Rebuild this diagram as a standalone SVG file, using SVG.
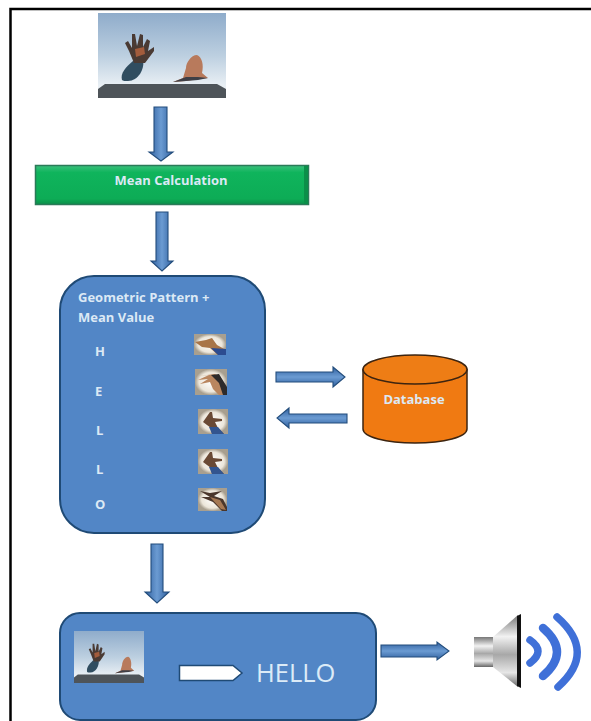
<svg xmlns="http://www.w3.org/2000/svg" width="591" height="721" viewBox="0 0 591 721">
<style>
text{font-family:"Open Sans","Liberation Sans",sans-serif}
.lab{font-weight:700;fill:#dce9f5;font-size:13px}
.ar{fill:url(#arrowH);stroke:#234d7c;stroke-width:1.1;stroke-linejoin:miter}
.arv{fill:url(#arrowV);stroke:#234d7c;stroke-width:1.1;stroke-linejoin:miter}
.blue{fill:#5286c6;stroke:#1f4a75;stroke-width:2}
.wave{fill:none;stroke:#3f70d8;stroke-linecap:round}
</style>
<defs>
<linearGradient id="arrowV" x1="0" x2="1" y1="0" y2="0"><stop offset="0" stop-color="#2f5f9e"/><stop offset=".5" stop-color="#6b9bd2"/><stop offset="1" stop-color="#2f5f9e"/></linearGradient>
<linearGradient id="arrowH" x1="0" x2="0" y1="0" y2="1"><stop offset="0" stop-color="#2f5f9e"/><stop offset=".5" stop-color="#6b9bd2"/><stop offset="1" stop-color="#2f5f9e"/></linearGradient>
<linearGradient id="sky" x1="0" x2="0" y1="0" y2="1"><stop offset="0" stop-color="#8faccb"/><stop offset=".5" stop-color="#bccfe0"/><stop offset=".85" stop-color="#e9eff4"/></linearGradient>
<linearGradient id="green" x1="0" x2="0" y1="0" y2="1"><stop offset="0" stop-color="#3cc07c"/><stop offset=".18" stop-color="#0fb45c"/><stop offset=".85" stop-color="#0dac56"/><stop offset="1" stop-color="#0b8f49"/></linearGradient>
<linearGradient id="metal" x1="0" x2="0" y1="0" y2="1"><stop offset="0" stop-color="#777"/><stop offset=".3" stop-color="#f2f2f2"/><stop offset=".55" stop-color="#a8a8a8"/><stop offset=".8" stop-color="#e6e6e6"/><stop offset="1" stop-color="#666"/></linearGradient>
<radialGradient id="thumbBg"><stop offset="0" stop-color="#ffffff"/><stop offset=".75" stop-color="#ece6da"/><stop offset="1" stop-color="#a89f8f"/></radialGradient>
<symbol id="scene" viewBox="0 0 128 85" preserveAspectRatio="none">
<rect width="128" height="85" fill="url(#sky)"/>
<path d="M0 85V76L7 71H119L128 76V85Z" fill="#4e5459"/>
<path d="M24 67C22 60 28 54 35 48L45 47C47 56 40 68 30 68C27 68 25 68 24 67Z" fill="#304d60"/>
<path d="M36 50L31 38L27 30L30 28L34 35L34 21L37 21L39 33L42 21L45 22L45 34L49 26L52 28L50 38L56 34L56 38L47 50Z" fill="#4a3a33"/>
<path d="M38 44L37 36L46 34L47 41Z" fill="#a35c3c"/>
<path d="M75 69L85 65L88 55C88 50 93 42 99 42C104 44 106 52 104 60L110 65L101 66L88 68Z" fill="#b87a5c"/>
<path d="M75 69L88 64L100 64L110 65L100 67L88 68Z" fill="#3f3f46"/>
</symbol>
<symbol id="thH" viewBox="0 0 32 21" preserveAspectRatio="none">
<rect width="32" height="21" fill="url(#thumbBg)"/>
<path d="M1 8L12 6L18 4L23 11L32 16V21H24L16 14L8 13Z" fill="#a87548"/>
<path d="M17 14L32 15V21H24Z" fill="#2c4c90"/>
</symbol>
<symbol id="thE" viewBox="0 0 32 26" preserveAspectRatio="none">
<rect width="32" height="26" fill="url(#thumbBg)"/>
<path d="M4 7L14 6L3 11L13 10L5 15L15 13L18 20L24 26H32V20L24 8L20 5Z" fill="#b9865f"/>
<path d="M16 6L24 5L32 18V26H28L24 14Z" fill="#2d2a2a"/>
</symbol>
<symbol id="thL" viewBox="0 0 30 25" preserveAspectRatio="none">
<rect width="30" height="25" fill="url(#thumbBg)"/>
<path d="M12 3L14 3L15 9L24 10V12L17 13L20 19L26 25H14L13 19L5 13Z" fill="#6a4a35"/>
<path d="M11 18L20 18L26 25H14Z" fill="#33558f"/>
</symbol>
<symbol id="thO" viewBox="0 0 29 23" preserveAspectRatio="none">
<rect width="29" height="23" fill="url(#thumbBg)"/>
<path d="M2 3L12 5L24 3L16 8L25 11L29 19V23H24L15 14L3 9L12 9Z" fill="#4a362b"/>
<path d="M12 9L22 12L28 22L23 21Z" fill="#a67954"/>
</symbol>
</defs>
<rect width="591" height="721" fill="#fff"/>
<path id="frame" d="M10.500 721V9H591" fill="none" stroke="#000" stroke-width="2.500"/>
<g id="connectors">
<path class="arv" d="M154 107H167V152H173L161 161L149 152H154Z"/>
<path class="arv" d="M156 212H168V261H173L162 271L151 261H156Z"/>
<path class="arv" d="M151 544H163V592H169L157 603L145 592H151Z"/>
<path class="ar" d="M276 372H333V367L345 377L333 387V382H276Z"/>
<path class="ar" d="M347 414H289V408L277 418L289 428V423H347Z"/>
<path class="ar" d="M381 645H437V642L449 651L437 660V657H381Z"/>
</g>
<g id="input-image"><use href="#scene" x="98" y="13" width="128" height="85"/></g>
<g id="mean-calculation">
<rect x="35.500" y="165.500" width="273" height="39" fill="url(#green)" stroke="#2b7a58" stroke-width="1.500"/>
<rect x="304" y="166" width="4" height="38" fill="#0b8f49"/>
<text x="171" y="185" text-anchor="middle" class="lab">Mean Calculation</text>
</g>
<g id="pattern">
<rect class="blue" x="60" y="276" width="205" height="257" rx="34"/>
<text class="lab" x="78" y="302">Geometric Pattern +</text>
<text class="lab" x="78" y="322">Mean Value</text>
<text class="lab" x="95" y="356">H</text>
<text class="lab" x="95" y="396">E</text>
<text class="lab" x="96" y="435">L</text>
<text class="lab" x="96" y="474">L</text>
<text class="lab" x="95" y="509">O</text>
<use href="#thH" x="194" y="334" width="32" height="21"/>
<use href="#thE" x="195" y="369" width="32" height="26"/>
<use href="#thL" x="198" y="409" width="30" height="25"/>
<use href="#thL" x="198" y="449" width="30" height="25"/>
<use href="#thO" x="198" y="488" width="29" height="23"/>
</g>
<g id="database">
<path d="M363 369.500V429C363 437 386 443 415 443S467 437 467 429V369.500Z" fill="#f07a12" stroke="#3c2410" stroke-width="1.500"/>
<ellipse cx="415" cy="369.500" rx="52" ry="14.500" fill="#ee7d15" stroke="#3c2410" stroke-width="1.500"/>
<text class="lab" x="414" y="404" text-anchor="middle">Database</text>
</g>
<g id="output">
<rect class="blue" x="60" y="613" width="316" height="107" rx="20"/>
<use href="#scene" x="74" y="631" width="70" height="52"/>
<path d="M179.500 665.500H233L242 673L233 680.500H179.500Z" fill="#fff" stroke="#1f4a75" stroke-width="1.500"/>
<text x="256" y="682" font-size="25.500" fill="#dcebf7">HELLO</text>
</g>
<g id="speaker">
<rect x="474" y="637" width="20" height="30" fill="url(#metal)"/>
<path d="M493 637L518 615V687L493 667Z" fill="url(#metal)"/>
<path d="M517 616L521 614V688L517 686Z" fill="#111"/>
<path class="wave" stroke-width="7.500" d="M530 640Q546 651 530 663"/>
<path class="wave" stroke-width="8.500" d="M543 628Q571 652 543 676"/>
<path class="wave" stroke-width="7.500" d="M557 617Q597 652 558 687"/>
</g>
</svg>
